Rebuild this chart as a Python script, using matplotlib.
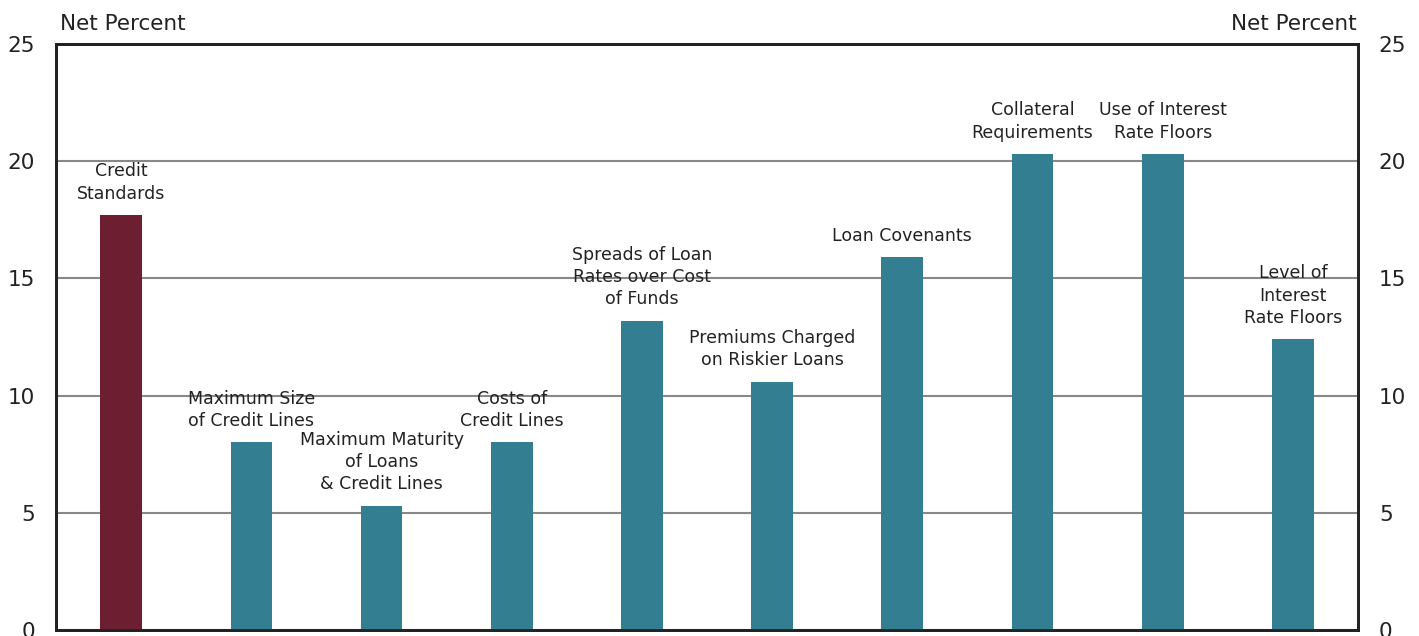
import matplotlib.pyplot as plt

# Survey categories and net percent values
categories = [
    'Credit\nStandards',
    'Maximum Size\nof Credit Lines',
    'Maximum Maturity\nof Loans\n& Credit Lines',
    'Costs of\nCredit Lines',
    'Spreads of Loan\nRates over Cost\nof Funds',
    'Premiums Charged\non Riskier Loans',
    'Loan Covenants',
    'Collateral\nRequirements',
    'Use of Interest\nRate Floors',
    'Level of\nInterest\nRate Floors',
]
values = [17.7, 8.0, 5.3, 8.0, 13.2, 10.6, 15.9, 20.3, 20.3, 12.4]
colors = ['#6d1f32'] + ['#337f91'] * 9
yticks = [0, 5, 10, 15, 20, 25]

fig = plt.figure(figsize=(14.19, 6.36), dpi=100)
ax = fig.add_axes([0.0395, 0.0095, 0.9175, 0.9213])

x = range(len(values))
bars = ax.bar(x, values, width=0.32, color=colors, zorder=3)

# Labels above each bar
for xi, v, lab in zip(x, values, categories):
    ax.annotate(lab, (xi, v), xytext=(0, 9), textcoords='offset points',
                ha='center', va='bottom', fontsize=12.5, color='#222222',
                linespacing=1.3)

ax.set_xlim(-0.5, len(values) - 0.5)
ax.set_ylim(0, 25)
ax.set_yticks(yticks)
ax.set_xticks([])
ax.yaxis.grid(True, color='#888888', linewidth=1.5, zorder=0)
ax.tick_params(axis='y', length=0, pad=15, labelsize=15.5, labelcolor='#222222')
for s in ax.spines.values():
    s.set_linewidth(2)
    s.set_color('#222222')

ax2 = ax.twinx()
ax2.set_ylim(0, 25)
ax2.set_yticks(yticks)
ax2.tick_params(axis='y', length=0, pad=15, labelsize=15.5, labelcolor='#222222')
for s in ax2.spines.values():
    s.set_linewidth(2)
    s.set_color('#222222')

fig.text(0.042, 0.947, 'Net Percent', ha='left', va='bottom', fontsize=15.5, color='#222222')
fig.text(0.956, 0.947, 'Net Percent', ha='right', va='bottom', fontsize=15.5, color='#222222')

plt.savefig('out.png', dpi=100)
